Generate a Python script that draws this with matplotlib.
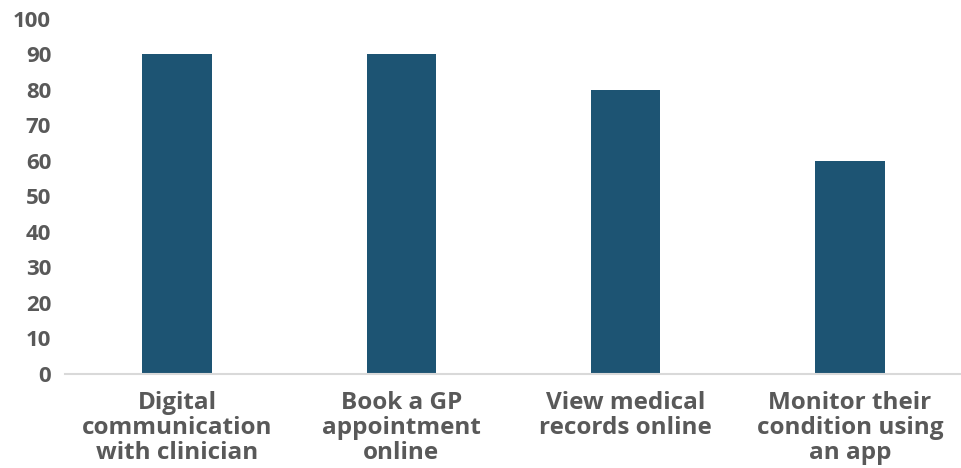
import matplotlib
matplotlib.use("Agg")
import matplotlib.pyplot as plt

# survey categories and share of respondents (%)
categories = [
    "Digital\ncommunication\nwith clinician",
    "Book a GP\nappointment\nonline",
    "View medical\nrecords online",
    "Monitor their\ncondition using\nan app",
]
values = [90, 90, 80, 60]
yticks = list(range(0, 101, 10))

bar_color = "#1D5473"
text_color = "#595959"

plt.rcParams["font.family"] = ["Open Sans", "DejaVu Sans"]

fig = plt.figure(figsize=(9.62, 4.68), dpi=100)
ax = fig.add_axes([0.0676, 0.2009, 0.9324, 0.7585])

x = range(len(categories))
ax.bar(x, values, width=0.31, color=bar_color, zorder=2)

ax.set_xlim(-0.5, len(categories) - 0.5)
ax.set_ylim(0, 100)
ax.set_yticks(yticks)
ax.set_yticklabels([str(t) for t in yticks], fontsize=16, fontweight="bold", color=text_color)
ax.set_xticks(list(x))
ax.set_xticklabels(categories, fontsize=17.5, fontweight="bold", color=text_color, linespacing=1.06)

ax.tick_params(axis="both", length=0)
ax.tick_params(axis="y", pad=10)
ax.tick_params(axis="x", pad=12)

for side in ["top", "right", "left"]:
    ax.spines[side].set_visible(False)
ax.spines["bottom"].set_color("#D9D9D9")
ax.spines["bottom"].set_linewidth(1.5)

fig.savefig("out.png", dpi=100)
